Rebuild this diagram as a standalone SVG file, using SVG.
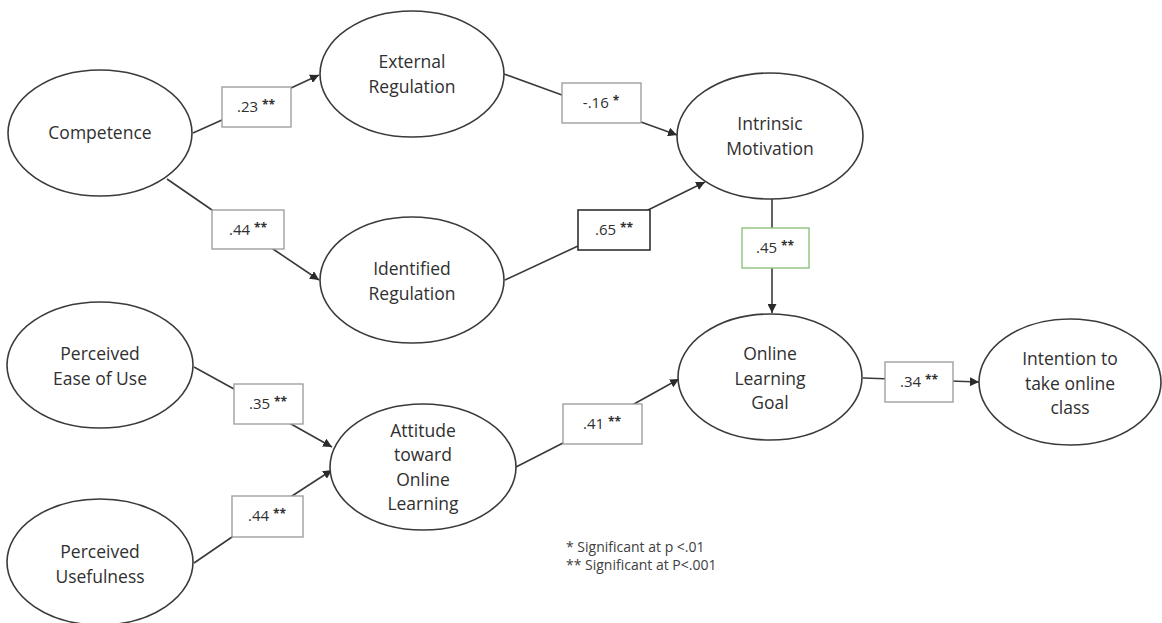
<svg xmlns="http://www.w3.org/2000/svg" width="1162" height="623" viewBox="0 0 1162 623">
<style>
.n{fill:#fff;stroke:#3a3a3a;stroke-width:1.6}
.t{font-family:"Open Sans","Liberation Sans",sans-serif;font-size:17.5px;fill:#303030;text-anchor:middle}
.c{fill:none;stroke:#3a3a3a;stroke-width:1.6;marker-end:url(#ah)}
.b{fill:#fff;stroke:#a0a0a0;stroke-width:1.4}
.bd{fill:#fff;stroke:#303030;stroke-width:1.6}
.bg{fill:#fff;stroke:#8cc47c;stroke-width:1.4}
.l{font-family:"Open Sans","Liberation Sans",sans-serif;font-size:15px;fill:#303030;text-anchor:middle}
.s{font-size:12px;font-weight:bold}
.lg{font-family:"Open Sans","Liberation Sans",sans-serif;font-size:14px;fill:#404040}
</style>
<defs>
<marker id="ah" markerUnits="userSpaceOnUse" markerWidth="9" markerHeight="9" viewBox="0 0 10 10" refX="10" refY="5" orient="auto">
<path d="M0,0 L10,5 L0,10 z" fill="#2a2a2a"/>
</marker>
</defs>
<rect width="1162" height="623" fill="#fff"/>
<g id="connectors">
<path class="c" d="M193,133 L222,120 L291,88 L319,75"/>
<path class="c" d="M167,179 L212,210 L273,249 L319,280"/>
<path class="c" d="M504,74 L562,95 L641,122 L677,135"/>
<path class="c" d="M505,280 L578,246 L648,210 L705,182"/>
<path class="c" d="M772,199 L772,313"/>
<path class="c" d="M863,378 L979,382"/>
<path class="c" d="M194,367 L234,389 L291,424 L332,447"/>
<path class="c" d="M194,563 L232,537 L292,496 L332,470"/>
<path class="c" d="M516,467 L563,443 L634,404 L679,379"/>
<g id="label-comp-ext"><rect class="b" x="222" y="87" width="69" height="40"/><text class="l" x="256" y="112">.23 <tspan class="s" dy="-3">**</tspan></text></g>
<g id="label-comp-ident"><rect class="b" x="212" y="210" width="72" height="39"/><text class="l" x="248" y="235">.44 <tspan class="s" dy="-3">**</tspan></text></g>
<g id="label-ext-intr"><rect class="b" x="562" y="83" width="79" height="40"/><text class="l" x="601" y="108">-.16 <tspan class="s" dy="-3">*</tspan></text></g>
<g id="label-ident-intr"><rect class="bd" x="578" y="210" width="72" height="40"/><text class="l" x="614" y="235">.65 <tspan class="s" dy="-3">**</tspan></text></g>
<g id="label-intr-goal"><rect class="bg" x="742" y="228" width="67" height="40"/><text class="l" x="775" y="253">.45 <tspan class="s" dy="-3">**</tspan></text></g>
<g id="label-goal-int"><rect class="b" x="885" y="362" width="68" height="40"/><text class="l" x="919" y="387">.34 <tspan class="s" dy="-3">**</tspan></text></g>
<g id="label-ease-att"><rect class="b" x="234" y="384" width="69" height="40"/><text class="l" x="268" y="409">.35 <tspan class="s" dy="-3">**</tspan></text></g>
<g id="label-use-att"><rect class="b" x="232" y="496" width="71" height="41"/><text class="l" x="267" y="521">.44 <tspan class="s" dy="-3">**</tspan></text></g>
<g id="label-att-goal"><rect class="b" x="563" y="404" width="79" height="40"/><text class="l" x="602" y="429">.41 <tspan class="s" dy="-3">**</tspan></text></g>
</g>
<g id="competence"><ellipse class="n" cx="100" cy="133" rx="92" ry="63"/><text class="t" x="100" y="139">Competence</text></g>
<g id="external-regulation"><ellipse class="n" cx="412" cy="74" rx="92" ry="63"/><text class="t" x="412" y="68">External</text><text class="t" x="412" y="93">Regulation</text></g>
<g id="identified-regulation"><ellipse class="n" cx="412" cy="280" rx="92" ry="63"/><text class="t" x="412" y="275">Identified</text><text class="t" x="412" y="300">Regulation</text></g>
<g id="intrinsic-motivation"><ellipse class="n" cx="770" cy="136" rx="93" ry="63"/><text class="t" x="770" y="130">Intrinsic</text><text class="t" x="770" y="155">Motivation</text></g>
<g id="online-learning-goal"><ellipse class="n" cx="770" cy="377" rx="92" ry="63"/><text class="t" x="770" y="360">Online</text><text class="t" x="770" y="385">Learning</text><text class="t" x="770" y="409">Goal</text></g>
<g id="intention"><ellipse class="n" cx="1070" cy="382" rx="91" ry="63"/><text class="t" x="1070" y="365">Intention to</text><text class="t" x="1070" y="390">take online</text><text class="t" x="1070" y="414">class</text></g>
<g id="perceived-ease"><ellipse class="n" cx="100" cy="365" rx="93" ry="63"/><text class="t" x="100" y="360">Perceived</text><text class="t" x="100" y="385">Ease of Use</text></g>
<g id="perceived-usefulness"><ellipse class="n" cx="100" cy="562" rx="93" ry="63"/><text class="t" x="100" y="558">Perceived</text><text class="t" x="100" y="583">Usefulness</text></g>
<g id="attitude"><ellipse class="n" cx="423" cy="467" rx="93" ry="63"/><text class="t" x="423" y="437">Attitude</text><text class="t" x="423" y="461">toward</text><text class="t" x="423" y="486">Online</text><text class="t" x="423" y="510">Learning</text></g>
<g id="legend"><text class="lg" x="566" y="552">* Significant at p &lt;.01</text><text class="lg" x="566" y="570">** Significant at P&lt;.001</text></g>
</svg>
